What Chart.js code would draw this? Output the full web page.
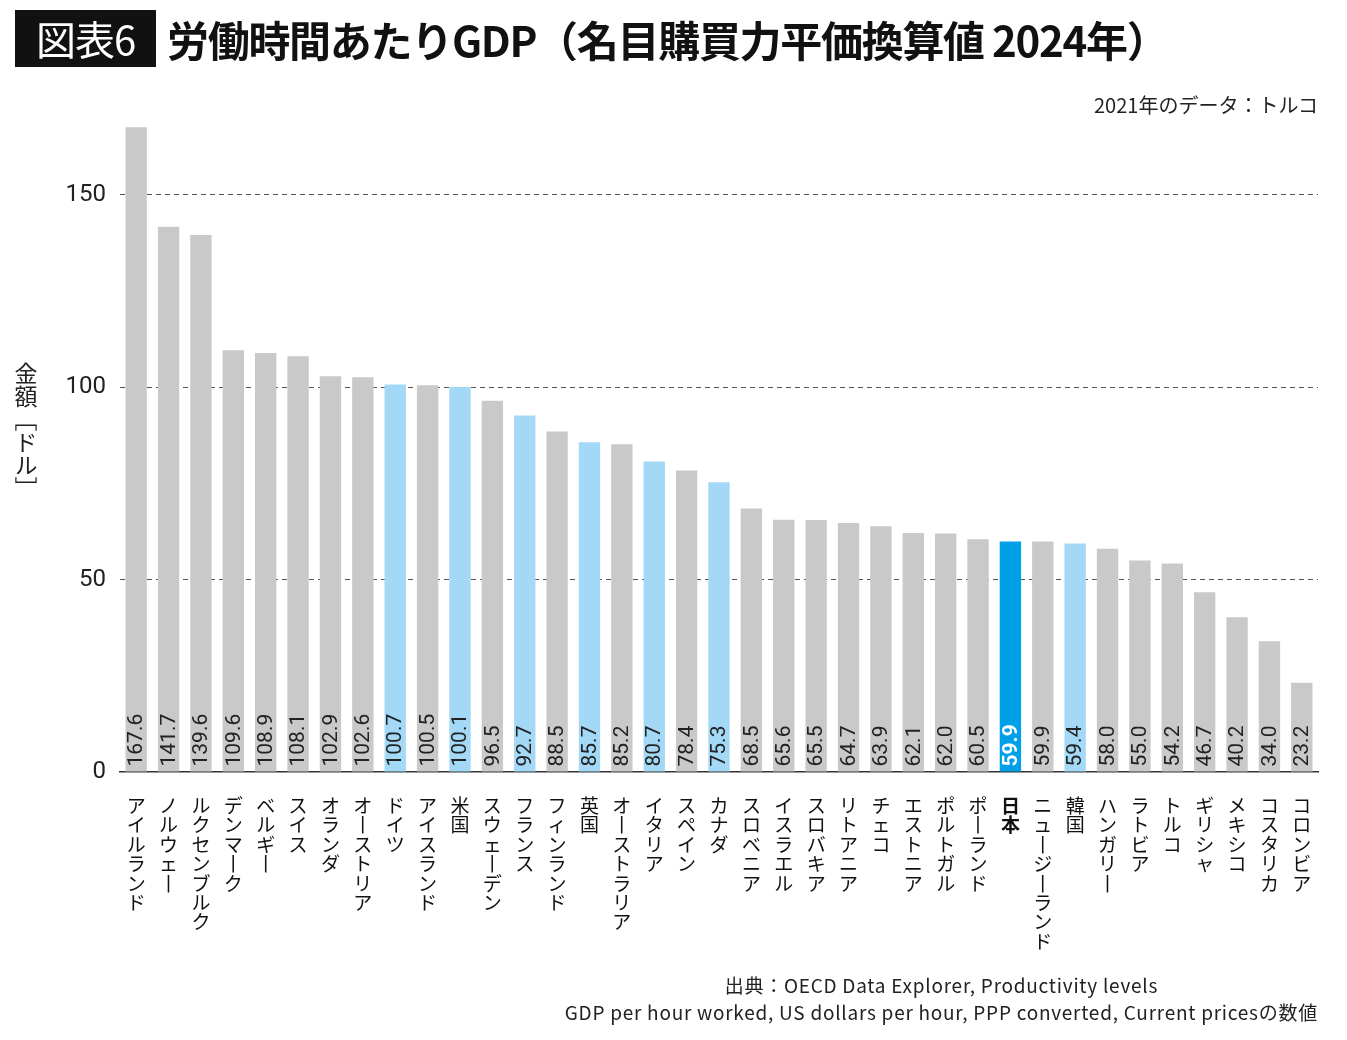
<!DOCTYPE html>
<html lang="ja">
<head>
<meta charset="UTF-8">
<title>労働時間あたりGDP</title>
<script src="https://cdn.jsdelivr.net/npm/chart.js"></script>
<style>
  body { margin: 0; background: #fff; overflow: hidden; }
  #wrap { position: relative; width: 1347px; height: 1040px; font-family: 'Noto Sans CJK JP', sans-serif; color: #111; }
  #chart { position: absolute; left: 0; top: 0; }
  .tag { position: absolute; left: 15px; top: 10px; width: 141px; height: 57px; background: #111; color: #fff;
         font-size: 40px; line-height: 57px; text-align: center; letter-spacing: -1px; }
  .title { position: absolute; left: 167px; top: 10px; height: 57px; line-height: 57px; font-size: 42px;
           font-weight: bold; letter-spacing: -1.3px; white-space: nowrap; }
  .note { position: absolute; right: 29px; top: 90px; font-size: 20px; color: #222; }
  .ytitle { position: absolute; left: 14px; top: 362px; font-size: 23px; writing-mode: vertical-rl; line-height: 1; color: #222; }
  .source { position: absolute; right: 29px; top: 971px; font-size: 19px; letter-spacing: 0.75px; line-height: 27px;
            text-align: center; color: #222; white-space: nowrap; }
</style>
</head>
<body>
<div id="wrap">
  <canvas id="chart" width="1347" height="1040"></canvas>
  <div class="tag">図表6</div>
  <div class="title">労働時間あたりGDP（名目購買力平価換算値 2024年）</div>
  <div class="note">2021年のデータ：トルコ</div>
  <div class="ytitle">金額［ドル］</div>
  <div class="source">出典：OECD Data Explorer, Productivity levels<br>GDP per hour worked, US dollars per hour, PPP converted, Current pricesの数値</div>
</div>
<script>
// 国名と労働時間あたりGDP（ドル）
const countries = ['アイルランド', 'ノルウェー', 'ルクセンブルク', 'デンマーク', 'ベルギー', 'スイス', 'オランダ',
  'オーストリア', 'ドイツ', 'アイスランド', '米国', 'スウェーデン', 'フランス', 'フィンランド', '英国',
  'オーストラリア', 'イタリア', 'スペイン', 'カナダ', 'スロベニア', 'イスラエル', 'スロバキア', 'リトアニア',
  'チェコ', 'エストニア', 'ポルトガル', 'ポーランド', '日本', 'ニュージーランド', '韓国', 'ハンガリー',
  'ラトビア', 'トルコ', 'ギリシャ', 'メキシコ', 'コスタリカ', 'コロンビア'];
const gdpPerHour = [167.6, 141.7, 139.6, 109.6, 108.9, 108.1, 102.9, 102.6, 100.7, 100.5, 100.1, 96.5, 92.7,
  88.5, 85.7, 85.2, 80.7, 78.4, 75.3, 68.5, 65.6, 65.5, 64.7, 63.9, 62.1, 62.0, 60.5, 59.9, 59.9, 59.4, 58.0,
  55.0, 54.2, 46.7, 40.2, 34.0, 23.2];
const yTicks = [0, 50, 100, 150];
// G7+韓国 と 日本
const g7 = ['ドイツ', '米国', 'フランス', '英国', 'イタリア', 'カナダ', '韓国'];
const focus = '日本';

const colors = countries.map(c => c === focus ? '#00a0e9' : g7.includes(c) ? '#a3d9f6' : '#c9c9ca');

const valueLabels = {
  id: 'valueLabels',
  afterDatasetsDraw(chart) {
    const ctx = chart.ctx;
    chart.getDatasetMeta(0).data.forEach((bar, i) => {
      const isFocus = countries[i] === focus;
      ctx.save();
      ctx.translate(bar.x, bar.base - 5);
      ctx.rotate(-Math.PI / 2);
      ctx.font = (isFocus ? 'bold ' : '') + '21px Roboto, sans-serif';
      ctx.fillStyle = isFocus ? '#fff' : '#222';
      ctx.textAlign = 'left';
      ctx.textBaseline = 'middle';
      ctx.fillText(gdpPerHour[i].toFixed(1), 0, 1);
      ctx.restore();
    });
  }
};

new Chart(document.getElementById('chart'), {
  type: 'bar',
  data: {
    labels: countries,
    datasets: [{
      data: gdpPerHour,
      backgroundColor: colors,
      barPercentage: 0.66,
      categoryPercentage: 1.0
    }]
  },
  options: {
    responsive: false,
    animation: false,
    layout: { padding: { top: 118, right: 29, left: 0, bottom: 0 } },
    plugins: { legend: { display: false }, tooltip: { enabled: false } },
    scales: {
      x: {
        grid: { display: false },
        border: { display: true, color: '#333', width: 1.5 },
        ticks: {
          autoSkip: false,
          maxRotation: 0,
          padding: 16,
          color: '#111',
          font: ctx => ({ family: "'Noto Sans CJK JP', sans-serif", size: 19, lineHeight: '19.4px',
                          weight: countries[ctx.index] === focus ? 'bold' : 'normal' }),
          callback(value) {
            // 縦書き風に1文字ずつ改行
            return this.getLabelForValue(value).split('').map(ch => ch === 'ー' ? '丨' : ch);
          }
        },
        afterFit(scale) { scale.height = 268; }
      },
      y: {
        min: 0,
        max: 170,
        afterBuildTicks(axis) { axis.ticks = yTicks.map(v => ({ value: v })); },
        grid: {
          drawTicks: false,
          color: ctx => ctx.tick && ctx.tick.value === 0 ? 'rgba(0,0,0,0)' : '#555',
          lineWidth: 1
        },
        border: { display: false, dash: [5, 4] },
        ticks: { padding: 14, color: '#222', font: { family: 'Roboto, sans-serif', size: 24 } },
        afterFit(scale) { scale.width = 120; }
      }
    }
  },
  plugins: [valueLabels]
});
</script>
</body>
</html>
